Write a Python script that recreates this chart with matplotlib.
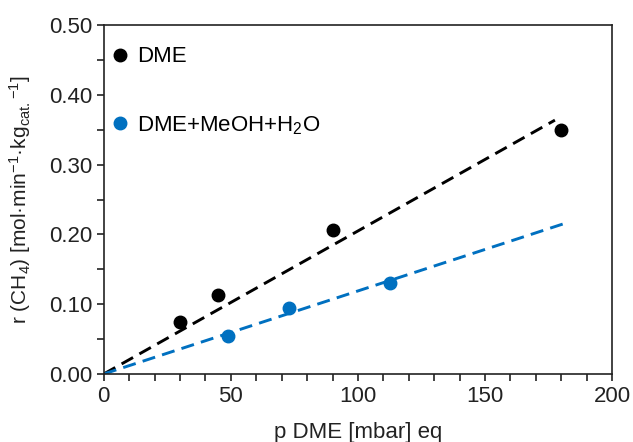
import matplotlib
matplotlib.use("Agg")
import matplotlib.pyplot as plt
from matplotlib.ticker import MultipleLocator, FormatStrFormatter

plt.rcParams['font.family'] = ['Liberation Sans', 'DejaVu Sans']
plt.rcParams['mathtext.default'] = 'regular'

# data
dme_p = [30, 45, 90, 180]
dme_r = [0.075, 0.113, 0.207, 0.350]
mix_p = [49, 73, 112.5]
mix_r = [0.054, 0.094, 0.131]

# linear fits through origin
dme_fit_x = [0, 177.5]
dme_slope = 0.00205
mix_fit_x = [0, 182]
mix_slope = 0.00119

black = '#000000'
blue = '#0070C0'

fig = plt.figure(figsize=(6.33, 4.42), dpi=100)
ax = fig.add_axes([0.164, 0.154, 0.803, 0.789])

ax.plot(dme_fit_x, [dme_slope * x for x in dme_fit_x], color=black, lw=2.1,
        ls=(0, (4.5, 2.5)))
ax.plot(mix_fit_x, [mix_slope * x for x in mix_fit_x], color=blue, lw=2.1,
        ls=(0, (4.5, 2.5)))
ax.plot(dme_p, dme_r, 'o', color=black, ms=9, label='DME', zorder=3)
ax.plot(mix_p, mix_r, 'o', color=blue, ms=9, label='DME+MeOH+H$_2$O', zorder=3)

ax.set_xlim(0, 200)
ax.set_ylim(0, 0.5)
ax.xaxis.set_major_locator(MultipleLocator(50))
ax.xaxis.set_minor_locator(MultipleLocator(10))
ax.yaxis.set_major_locator(MultipleLocator(0.1))
ax.yaxis.set_minor_locator(MultipleLocator(0.05))
ax.yaxis.set_major_formatter(FormatStrFormatter('%.2f'))
ax.tick_params(which='both', direction='out', length=5, width=1.2, labelsize=16,
               colors='#222222')
for s in ax.spines.values():
    s.set_linewidth(1.2)
    s.set_color('#222222')

ax.set_xlabel('p DME [mbar] eq', fontsize=16, color='#222222', labelpad=11)
ax.set_ylabel('r (CH$_4$) [mol·min$^{-1}$·kg$_{cat.}$$^{-1}$]', fontsize=15,
              color='#222222', labelpad=11)

ax.legend(loc='upper left', frameon=False, fontsize=16, labelspacing=2.1,
          handletextpad=0.4, handlelength=0.8, borderaxespad=0.0, borderpad=0.2,
          bbox_to_anchor=(0.005, 0.952))

fig.savefig('out.png', dpi=100)
